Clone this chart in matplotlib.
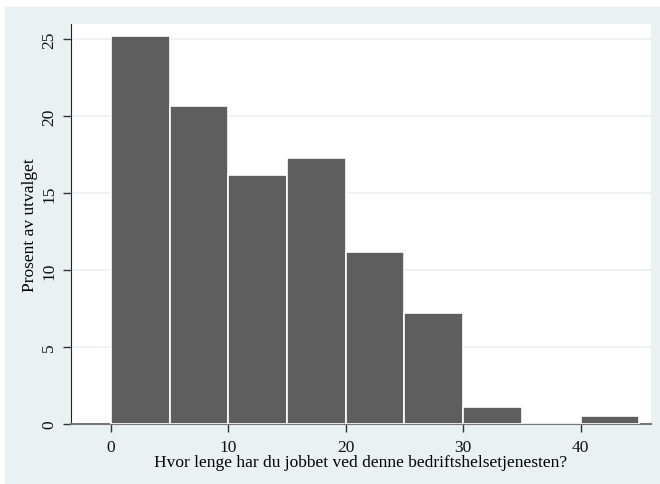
import numpy as np
import matplotlib.pyplot as plt
from matplotlib.patches import Rectangle

# histogram bins (years) and percent of sample
bin_left = [0, 5, 10, 15, 20, 25, 30, 35, 40]
percent = [25.2, 20.7, 16.2, 17.3, 11.2, 7.2, 1.1, 0.0, 0.5]
bin_width = 5
xticks = [0, 10, 20, 30, 40]
yticks = [0, 5, 10, 15, 20, 25]

bg = "#eaf1f3"
bar_col = "#5e5e5e"

plt.rcParams['font.family'] = ['Liberation Serif']

fig = plt.figure(figsize=(6.6, 4.85), dpi=100)
fig.patch.set_facecolor("white")
fig.patches.append(Rectangle((5 / 660, 0), 655 / 660, 477 / 485,
                             transform=fig.transFigure, color=bg, zorder=-10))

ax = fig.add_axes([71 / 660, 60 / 485, 580 / 660, 400 / 485])
ax.set_facecolor("white")

ax.bar(bin_left, percent, width=bin_width, align="edge", color=bar_col,
       edgecolor="white", linewidth=1.2, zorder=3)

ax.set_xlim(-3.4, 46.0)
ax.set_ylim(0, 26)
ax.set_xticks(xticks)
ax.set_yticks(yticks)
ax.set_yticklabels([str(v) for v in yticks], rotation=90, va="center")
ax.grid(axis="y", color=bg, linewidth=1.2, zorder=0)
ax.grid(axis="x", visible=False)

for s in ["top", "right"]:
    ax.spines[s].set_visible(False)
ax.spines["left"].set_color("#222222")
ax.spines["bottom"].set_color("#777777")
ax.spines["bottom"].set_linewidth(1.5)
ax.tick_params(axis="both", length=6, width=1, color="#333333",
               labelsize=12.5, labelcolor="#111111")
ax.tick_params(axis="y", pad=4)
ax.tick_params(axis="x", pad=5)

ax.set_ylabel("Prosent av utvalget", fontsize=12.5, labelpad=2)
ax.set_xlabel("Hvor lenge har du jobbet ved denne bedriftshelsetjenesten?",
              fontsize=12.5, labelpad=-1)

fig.savefig("out.png", dpi=100)
